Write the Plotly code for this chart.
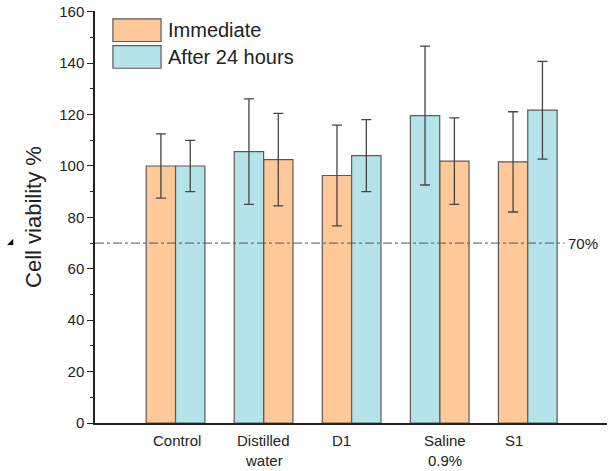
import plotly.graph_objects as go

categories = ["Control", "Distilled", "D1", "Saline", "S1"]
second_line = ["", "water", "", "0.9%", ""]
label_shift = [1, 0, -10, 5, -14]

series_names = ["Immediate", "After 24 hours"]
immediate = [100.0, 102.5, 96.3, 101.9, 101.6]
immediate_err = [12.5, 18.0, 19.6, 16.8, 19.5]
after24 = [100.0, 105.6, 104.0, 119.6, 121.7]
after24_err = [10.0, 20.5, 14.0, 27.0, 19.0]
# which series is drawn on the left within each group
left_series = ["imm", "24h", "imm", "24h", "imm"]

threshold = 70
orange = "#FEC898"
blue = "#B4E4EA"
edge = "#5a5a5a"

bw = 1 / 3
off_imm = [-bw if s == "imm" else 0 for s in left_series]
off_24 = [0 if s == "imm" else -bw for s in left_series]

fig = go.Figure()
fig.add_trace(go.Bar(
    x=categories, y=immediate, name=series_names[0], width=bw, offset=off_imm,
    marker=dict(color=orange, line=dict(color=edge, width=1.2)),
    error_y=dict(type="data", array=immediate_err, color="#444", thickness=1.3, width=5),
    showlegend=False,
))
fig.add_trace(go.Bar(
    x=categories, y=after24, name=series_names[1], width=bw, offset=off_24,
    marker=dict(color=blue, line=dict(color=edge, width=1.2)),
    error_y=dict(type="data", array=after24_err, color="#444", thickness=1.3, width=5),
    showlegend=False,
))

fig.add_shape(type="line", xref="paper", yref="y", x0=0, x1=0.917, y0=threshold, y1=threshold,
              line=dict(color="#555", width=1, dash="dashdot"))
fig.add_annotation(xref="paper", yref="y", x=0.92, y=threshold, text=f"{threshold}%",
                   showarrow=False, xanchor="left", font=dict(size=15, color="#222"))

for i, (c, s2, sh) in enumerate(zip(categories, second_line, label_shift)):
    fig.add_annotation(xref="x", yref="paper", x=i, y=0, yshift=-17, xshift=sh, text=c,
                       showarrow=False, yanchor="middle", font=dict(size=15, color="#222"))
    if s2:
        fig.add_annotation(xref="x", yref="paper", x=i, y=0, yshift=-37, xshift=sh, text=s2,
                           showarrow=False, yanchor="middle", borderpad=0,
                           font=dict(size=15, color="#222"))

fig.add_annotation(xref="paper", yref="paper", x=-0.176, y=(423 - 240) / 415, text="◢",
                   showarrow=False, font=dict(size=8, color="#000"))

# legend drawn with large swatches like the reference
legend_colors = [orange, blue]
sw_top = [0.981, 0.916]
sw_h = 0.055
for name, col, top in zip(series_names, legend_colors, sw_top):
    fig.add_shape(type="rect", xref="paper", yref="paper", x0=0.035, x1=0.129,
                  y0=top - sw_h, y1=top, fillcolor=col, line=dict(color=edge, width=1.2))
    fig.add_annotation(xref="paper", yref="paper", x=0.138, y=top - sw_h / 2, text=name,
                       showarrow=False, xanchor="left", yanchor="middle",
                       font=dict(size=20, color="#222"))

fig.update_layout(
    width=610, height=471,
    margin=dict(l=95, r=3, t=8, b=48),
    plot_bgcolor="white", paper_bgcolor="white",
    barmode="overlay",
    font=dict(family="Arial, Liberation Sans, sans-serif", color="#222"),
    showlegend=False,
    xaxis=dict(type="category", range=[-0.915, 4.9], showticklabels=False, ticks="",
               showline=True, linecolor="#222", linewidth=1.5, showgrid=False, zeroline=False),
    yaxis=dict(range=[0, 160.3], tickvals=[0, 20, 40, 60, 80, 100, 120, 140, 160],
               ticks="outside", ticklen=6, tickwidth=1.3, tickcolor="#222",
               minor=dict(dtick=10, ticks="outside", ticklen=3, tickcolor="#222"),
               showline=True, linecolor="#222", linewidth=1.5, showgrid=False, zeroline=False,
               tickfont=dict(size=15), ticklabeloverflow="allow",
               title=dict(text="Cell viability %", font=dict(size=22), standoff=12)),
)

fig.write_html("out.html")
